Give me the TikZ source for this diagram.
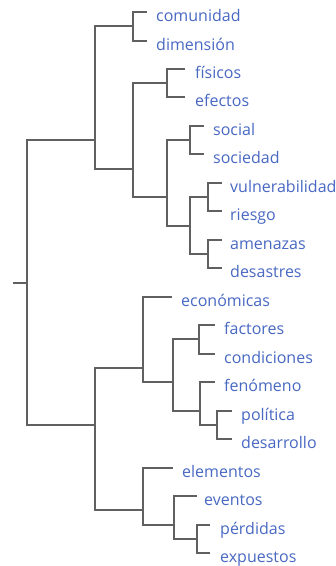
\documentclass[tikz,border=0pt]{standalone}
\usepackage{fontspec}
\setmainfont{Open Sans}
\definecolor{lbl}{RGB}{72,104,194}
\definecolor{ln}{RGB}{96,96,96}
\begin{document}
\begin{tikzpicture}[x=1pt,y=-1pt,
  link/.style={draw=ln,line width=2pt},
  leaf/.style={anchor=base west,inner sep=0pt,text=lbl,font=\fontsize{16}{18}\selectfont}]
\useasboundingbox (0,0) rectangle (336,566);
% leaf arm ends
\coordinate (a0) at (147,12.0);
\coordinate (a1) at (147,40.5);
\coordinate (a2) at (185,68.9);
\coordinate (a3) at (185,97.4);
\coordinate (a4) at (204,125.9);
\coordinate (a5) at (204,154.4);
\coordinate (a6) at (222,182.8);
\coordinate (a7) at (222,211.3);
\coordinate (a8) at (222,239.8);
\coordinate (a9) at (222,268.2);
\coordinate (a10) at (172,296.7);
\coordinate (a11) at (215,325.2);
\coordinate (a12) at (215,353.6);
\coordinate (a13) at (215,382.1);
\coordinate (a14) at (232,410.6);
\coordinate (a15) at (232,439.0);
\coordinate (a16) at (173,467.5);
\coordinate (a17) at (197,496.0);
\coordinate (a18) at (210,524.5);
\coordinate (a19) at (210,552.9);
% labels
\node[leaf] (t0) at (156,21.5) {comunidad};
\node[leaf] (t1) at (156,50.0) {dimensión};
\node[leaf] (t2) at (195,78.4) {físicos};
\node[leaf] (t3) at (195,106.9) {efectos};
\node[leaf] (t4) at (213,135.4) {social};
\node[leaf] (t5) at (213,163.9) {sociedad};
\node[leaf] (t6) at (230,192.3) {vulnerabilidad};
\node[leaf] (t7) at (230,220.8) {riesgo};
\node[leaf] (t8) at (230,249.3) {amenazas};
\node[leaf] (t9) at (230,277.7) {desastres};
\node[leaf] (t10) at (181,306.2) {económicas};
\node[leaf] (t11) at (224,334.7) {factores};
\node[leaf] (t12) at (224,363.1) {condiciones};
\node[leaf] (t13) at (224,391.6) {fenómeno};
\node[leaf] (t14) at (241,420.1) {política};
\node[leaf] (t15) at (241,448.5) {desarrollo};
\node[leaf] (t16) at (182,477.0) {elementos};
\node[leaf] (t17) at (204,505.5) {eventos};
\node[leaf] (t18) at (220,534.0) {pérdidas};
\node[leaf] (t19) at (220,562.4) {expuestos};
% internal nodes
\coordinate (n01) at (133,26.2);
\coordinate (n23) at (167,83.2);
\coordinate (n45) at (190,140.1);
\coordinate (n67) at (208,197.1);
\coordinate (n89) at (208,254.0);
\coordinate (n6789) at (190,225.5);
\coordinate (n4to9) at (167,197.1);
\coordinate (n2to9) at (133,168.6);
\coordinate (nA) at (95,140.1);
\coordinate (n1415) at (217,424.8);
\coordinate (n13to15) at (200,410.6);
\coordinate (n1112) at (199,339.4);
\coordinate (n11to15) at (173,382.1);
\coordinate (n10to15) at (143,367.9);
\coordinate (n1819) at (197,538.7);
\coordinate (n17to19) at (174,524.5);
\coordinate (n16to19) at (143,510.2);
\coordinate (nB) at (95,424.8);
\coordinate (root) at (27,282.5);
\coordinate (stub) at (13,282.5);
% links
\draw[link] (stub) -- (root);
\foreach \p/\c in {root/nA,root/nB,
  nA/n01,nA/n2to9,n01/a0,n01/a1,
  n2to9/n23,n2to9/n4to9,n23/a2,n23/a3,
  n4to9/n45,n4to9/n6789,n45/a4,n45/a5,
  n6789/n67,n6789/n89,n67/a6,n67/a7,n89/a8,n89/a9,
  nB/n10to15,nB/n16to19,
  n10to15/a10,n10to15/n11to15,
  n11to15/n1112,n11to15/n13to15,n1112/a11,n1112/a12,
  n13to15/a13,n13to15/n1415,n1415/a14,n1415/a15,
  n16to19/a16,n16to19/n17to19,
  n17to19/a17,n17to19/n1819,n1819/a18,n1819/a19}
  \draw[link] (\p) |- (\c);
\end{tikzpicture}
\end{document}
